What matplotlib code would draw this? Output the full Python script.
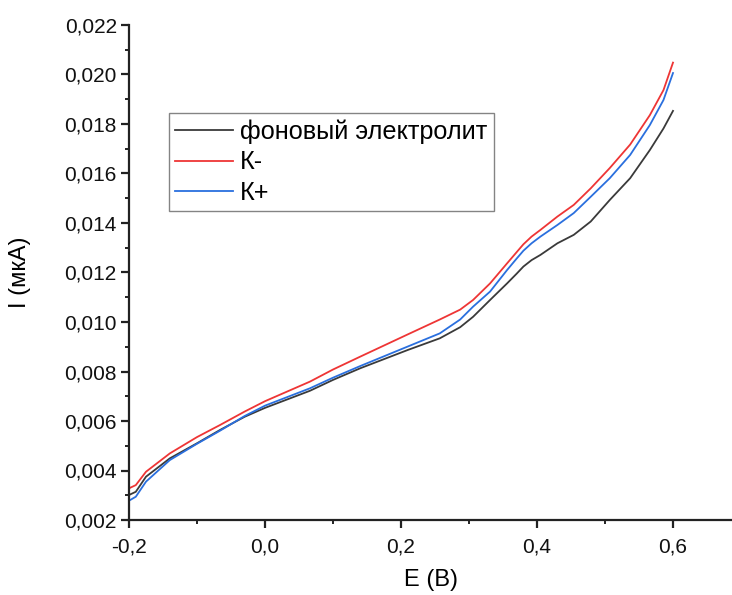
import matplotlib
matplotlib.use("Agg")
import matplotlib.pyplot as plt
from matplotlib.ticker import MultipleLocator, FuncFormatter

plt.rcParams['font.family'] = ['Liberation Sans', 'DejaVu Sans']

E = [-0.2, -0.19, -0.175, -0.14, -0.1, -0.066, -0.03, 0.0, 0.066, 0.1, 0.14,
     0.21, 0.257, 0.287, 0.306, 0.331, 0.356, 0.37, 0.38, 0.392, 0.405, 0.43, 0.454,
     0.479, 0.507, 0.537, 0.566, 0.586, 0.6]

I_background = [0.00301, 0.00314, 0.00375, 0.00449, 0.00510, 0.00564, 0.00617,
                0.00653, 0.00722, 0.00766, 0.00813, 0.00887, 0.00934, 0.00979, 0.01021,
                0.01089, 0.01156, 0.01195, 0.01224, 0.01250, 0.01271, 0.01318, 0.01352,
                0.01406, 0.01493, 0.01581, 0.01695, 0.01782, 0.01853]

I_Kminus = [0.00328, 0.00341, 0.00395, 0.00469, 0.00535, 0.00584, 0.00638,
            0.00680, 0.00759, 0.00808, 0.00860, 0.00950, 0.01010, 0.01050, 0.01089,
            0.01156, 0.01237, 0.01282, 0.01314, 0.01345, 0.01372, 0.01426, 0.01473,
            0.01540, 0.01622, 0.01717, 0.01836, 0.01937, 0.02048]

I_Kplus = [0.00278, 0.00294, 0.00355, 0.00442, 0.00508, 0.00561, 0.00620,
           0.00662, 0.00732, 0.00775, 0.00822, 0.00901, 0.00954, 0.01010, 0.01062,
           0.01123, 0.01210, 0.01256, 0.01288, 0.01318, 0.01345, 0.01392, 0.01440,
           0.01506, 0.01581, 0.01675, 0.01796, 0.01897, 0.02006]

labels = ['фоновый электролит', 'К-', 'К+']

fig = plt.figure(figsize=(7.32, 5.95), dpi=100)
ax = fig.add_axes([129/732, 75/595, 1 - 129/732, 495/595])

ax.plot(E, I_background, color='#3a3a3a', lw=1.3, label=labels[0])
ax.plot(E, I_Kminus, color='#ee3535', lw=1.3, label=labels[1])
ax.plot(E, I_Kplus, color='#2a6fde', lw=1.3, label=labels[2])

ax.set_xlim(-0.2, -0.2 + (732 - 129) / 680)
ax.set_ylim(0.002, 0.022)

ax.xaxis.set_major_locator(MultipleLocator(0.2))
ax.xaxis.set_minor_locator(MultipleLocator(0.1))
ax.yaxis.set_major_locator(MultipleLocator(0.002))
ax.yaxis.set_minor_locator(MultipleLocator(0.001))

ax.xaxis.set_major_formatter(FuncFormatter(lambda v, p: f"{v:.1f}".replace('.', ',').replace('-0,0', '0,0')))
ax.yaxis.set_major_formatter(FuncFormatter(lambda v, p: f"{v:.3f}".replace('.', ',')))

for s in ['top', 'right']:
    ax.spines[s].set_visible(False)
for s in ['left', 'bottom']:
    ax.spines[s].set_linewidth(1.6)
    ax.spines[s].set_color('#222222')

ax.tick_params(which='major', direction='out', length=5.8, width=1.6, labelsize=15, colors='#222222')
ax.tick_params(which='minor', direction='out', length=3.2, width=1.4, colors='#222222')
ax.tick_params(axis='x', which='major', pad=7)
ax.tick_params(axis='y', which='major', pad=3)
ax.tick_params(labelcolor='#111111')

ax.set_xlabel('E (B)', fontsize=17, labelpad=9)
ax.set_ylabel('I (мкА)', fontsize=17, labelpad=24)

leg = ax.legend(loc='upper left', bbox_to_anchor=((169 - 129) / 603, (520 - 113) / 495),
                borderaxespad=0, fontsize=18.2, frameon=True, fancybox=False,
                edgecolor='#666666', handlelength=2.3, handletextpad=0.27,
                labelspacing=0.26, borderpad=0.25)
leg.get_frame().set_linewidth(1.0)

fig.savefig('out.png', dpi=100)
